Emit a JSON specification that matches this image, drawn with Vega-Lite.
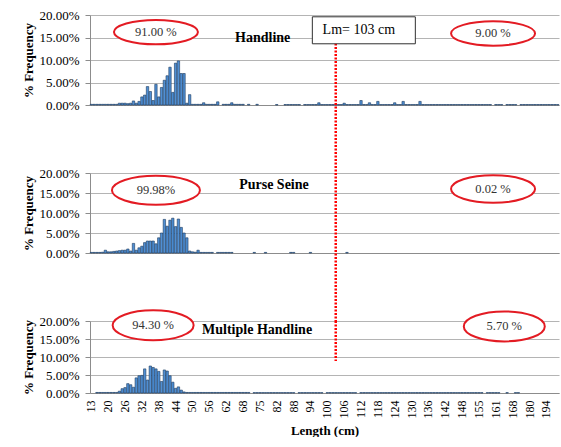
{
"$schema": "https://vega.github.io/schema/vega-lite/v6.json",
"autosize": {"type": "pad"},
"padding": {"left": 22, "top": 9, "right": 0, "bottom": 0},
"background": "white",
"bounds": "flush",
"spacing": 68,
"config": {
  "view": {"stroke": null},
  "font": "Liberation Serif",
  "axis": {"labelFont": "Liberation Serif", "titleFont": "Liberation Serif", "labelColor": "#000000", "titleColor": "#000000", "domainColor": "#8c8c8c", "tickColor": "#8c8c8c", "gridColor": "#b4b4b4", "gridWidth": 1},
  "axisY": {"tickCount": 5, "labelOverlap": false, "labelExpr": "format(datum.value, '.2f') + '%'", "grid": true, "tickSize": 5, "labelPadding": 6, "titlePadding": 3, "labelFontSize": 13, "titleFontSize": 13, "titleFontWeight": "bold"}
},
"datasets": {
"one": [{}],
"bars": [
{"L":13,"H":0.15,"P":0.15,"M":0},{"L":15,"H":0.15,"P":0.15,"M":0},{"L":16,"H":0.15,"P":0.15,"M":0.15},{"L":17,"H":0.15,"P":0.15,"M":0.15},{"L":18,"H":0.15,"P":0.2,"M":0.15},{"L":19,"H":0.15,"P":0.7,"M":0.15},
{"L":20,"H":0.15,"P":0.3,"M":0.15},{"L":21,"H":0.15,"P":0.3,"M":0.15},{"L":22,"H":0.15,"P":0.4,"M":0.15},{"L":23,"H":0.15,"P":0.5,"M":0.15},{"L":24,"H":0.4,"P":0.6,"M":0.5},{"L":25,"H":0.4,"P":0.7,"M":1.2},
{"L":26,"H":0.4,"P":0.7,"M":1.5},{"L":27,"H":0.3,"P":1.0,"M":2.6},{"L":28,"H":0.4,"P":0.5,"M":2.3},{"L":29,"H":0.9,"P":2.4,"M":1.6},{"L":30,"H":0.4,"P":0.7,"M":4.2},{"L":31,"H":0.8,"P":1.3,"M":4.8},
{"L":32,"H":1.8,"P":1.7,"M":4.9},{"L":33,"H":2.2,"P":2.6,"M":6.7},{"L":34,"H":4.1,"P":3.0,"M":3.6},{"L":35,"H":3.0,"P":3.0,"M":7.5},{"L":36,"H":1.0,"P":3.0,"M":7.1},{"L":37,"H":4.6,"P":2.3,"M":6.7},
{"L":38,"H":1.8,"P":3.8,"M":6.0},{"L":39,"H":3.9,"P":5.0,"M":3.2},{"L":40,"H":5.5,"P":8.4,"M":6.4},{"L":41,"H":6.5,"P":6.7,"M":6.1},{"L":42,"H":8.4,"P":8.2,"M":4.8},{"L":43,"H":2.8,"P":8.7,"M":3.0},
{"L":44,"H":9.3,"P":6.6,"M":1.3},{"L":45,"H":9.8,"P":8.5,"M":1.7},{"L":46,"H":7.0,"P":6.4,"M":0.8},{"L":47,"H":7.0,"P":5.0,"M":0.3},{"L":48,"H":0.4,"P":3.8,"M":0.15},{"L":49,"H":2.3,"P":0.5,"M":0.15},
{"L":50,"H":0.15,"P":0.3,"M":0.15},{"L":51,"H":0.15,"P":0.2,"M":0.15},{"L":52,"H":0.15,"P":0.7,"M":0.15},{"L":53,"H":0.15,"P":0.15,"M":0.15},{"L":54,"H":0.5,"P":0.15,"M":0.15},{"L":55,"H":0.15,"P":0.15,"M":0.15},
{"L":56,"H":0.15,"P":0.15,"M":0.15},{"L":57,"H":0.15,"P":0.15,"M":0.15},{"L":58,"H":0.15,"P":0,"M":0.15},{"L":59,"H":0.7,"P":0.15,"M":0.15},{"L":60,"H":0,"P":0.15,"M":0.15},{"L":61,"H":0.15,"P":0.15,"M":0.15},
{"L":62,"H":0.15,"P":0.15,"M":0.15},{"L":63,"H":0.15,"P":0.15,"M":0.15},{"L":64,"H":0.5,"P":0.15,"M":0.15},{"L":65,"H":0.15,"P":0,"M":0.15},{"L":66,"H":0.15,"P":0,"M":0.15},{"L":67,"H":0.15,"P":0,"M":0.15},
{"L":68,"H":0.15,"P":0,"M":0.15},{"L":69,"H":0,"P":0,"M":0.15},{"L":70,"H":0.15,"P":0,"M":0.15},{"L":71,"H":0,"P":0,"M":0},{"L":72,"H":0,"P":0.15,"M":0.1},{"L":74,"H":0.15,"P":0,"M":0.1},
{"L":75,"H":0,"P":0,"M":0.1},{"L":76,"H":0,"P":0,"M":0.1},{"L":77,"H":0,"P":0.15,"M":0.1},{"L":78,"H":0,"P":0,"M":0.1},{"L":79,"H":0,"P":0,"M":0.1},{"L":81,"H":0,"P":0,"M":0.1},
{"L":82,"H":0.1,"P":0,"M":0.1},{"L":83,"H":0,"P":0,"M":0.1},{"L":84,"H":0,"P":0,"M":0.1},{"L":85,"H":0.1,"P":0,"M":0.1},{"L":86,"H":0.1,"P":0,"M":0.1},{"L":87,"H":0.1,"P":0.15,"M":0.1},
{"L":88,"H":0.1,"P":0.15,"M":0.1},{"L":89,"H":0.1,"P":0,"M":0},{"L":90,"H":0.1,"P":0,"M":0.1},{"L":91,"H":0,"P":0,"M":0.1},{"L":92,"H":0.1,"P":0,"M":0.1},{"L":93,"H":0.1,"P":0,"M":0.1},
{"L":94,"H":0.1,"P":0.15,"M":0.1},{"L":95,"H":0.1,"P":0,"M":0.1},{"L":96,"H":0.1,"P":0,"M":0.1},{"L":97,"H":0.5,"P":0,"M":0.1},{"L":98,"H":0.1,"P":0,"M":0.1},{"L":99,"H":0.1,"P":0,"M":0},
{"L":100,"H":0.1,"P":0,"M":0.1},{"L":101,"H":0.1,"P":0,"M":0.1},{"L":102,"H":0.1,"P":0,"M":0.1},{"L":103,"H":0.1,"P":0,"M":0.1},{"L":104,"H":0.1,"P":0,"M":0.1},{"L":105,"H":0.1,"P":0,"M":0.1},
{"L":106,"H":0.4,"P":0,"M":0.1},{"L":107,"H":0.1,"P":0.15,"M":0.1},{"L":108,"H":0.1,"P":0,"M":0.1},{"L":109,"H":0.1,"P":0,"M":0.1},{"L":110,"H":0.1,"P":0,"M":0.1},{"L":111,"H":0.1,"P":0,"M":0},
{"L":112,"H":1.0,"P":0,"M":0.1},{"L":113,"H":0.1,"P":0,"M":0.1},{"L":114,"H":0.1,"P":0,"M":0.1},{"L":115,"H":0.5,"P":0,"M":0.1},{"L":116,"H":0.1,"P":0,"M":0.1},{"L":117,"H":0.1,"P":0,"M":0.1},
{"L":118,"H":0.8,"P":0,"M":0.1},{"L":119,"H":0.1,"P":0,"M":0.1},{"L":120,"H":0.1,"P":0,"M":0.1},{"L":121,"H":0.1,"P":0,"M":0.1},{"L":122,"H":0.1,"P":0,"M":0.1},{"L":123,"H":0.1,"P":0,"M":0.1},
{"L":124,"H":0.5,"P":0,"M":0.1},{"L":125,"H":0.1,"P":0,"M":0.1},{"L":126,"H":0.1,"P":0,"M":0.1},{"L":127,"H":0.8,"P":0,"M":0.1},{"L":128,"H":0.1,"P":0,"M":0.1},{"L":129,"H":0.1,"P":0,"M":0.1},
{"L":130,"H":0.1,"P":0,"M":0.1},{"L":131,"H":0.1,"P":0,"M":0.1},{"L":132,"H":0.1,"P":0,"M":0.1},{"L":133,"H":0.8,"P":0,"M":0.1},{"L":134,"H":0.1,"P":0,"M":0.1},{"L":135,"H":0.1,"P":0,"M":0.1},
{"L":136,"H":0.1,"P":0,"M":0.1},{"L":137,"H":0.1,"P":0,"M":0.1},{"L":138,"H":0.1,"P":0,"M":0.1},{"L":139,"H":0.1,"P":0,"M":0.1},{"L":140,"H":0.1,"P":0,"M":0.1},{"L":141,"H":0.1,"P":0,"M":0.1},
{"L":142,"H":0.1,"P":0,"M":0.1},{"L":143,"H":0.1,"P":0,"M":0.1},{"L":144,"H":0.1,"P":0,"M":0.1},{"L":145,"H":0.1,"P":0,"M":0.1},{"L":146,"H":0.1,"P":0,"M":0.1},{"L":147,"H":0.1,"P":0,"M":0.1},
{"L":148,"H":0.1,"P":0,"M":0.1},{"L":149,"H":0.1,"P":0,"M":0.1},{"L":150,"H":0.1,"P":0,"M":0.1},{"L":151,"H":0.1,"P":0,"M":0.1},{"L":152,"H":0.1,"P":0,"M":0.1},{"L":153,"H":0.1,"P":0,"M":0.1},
{"L":155,"H":0.1,"P":0,"M":0.1},{"L":156,"H":0.1,"P":0,"M":0.1},{"L":157,"H":0.1,"P":0,"M":0},{"L":158,"H":0.1,"P":0,"M":0.1},{"L":159,"H":0.1,"P":0,"M":0.1},{"L":160,"H":0,"P":0,"M":0.1},
{"L":161,"H":0.1,"P":0,"M":0.1},{"L":162,"H":0.1,"P":0,"M":0.1},{"L":163,"H":0.1,"P":0,"M":0},{"L":164,"H":0,"P":0,"M":0},{"L":165,"H":0.1,"P":0,"M":0.1},{"L":166,"H":0.1,"P":0,"M":0},
{"L":168,"H":0.1,"P":0,"M":0},{"L":170,"H":0.1,"P":0,"M":0.1},{"L":172,"H":0,"P":0,"M":0.1},{"L":174,"H":0.1,"P":0,"M":0},{"L":176,"H":0.1,"P":0,"M":0},{"L":178,"H":0.1,"P":0,"M":0},
{"L":180,"H":0.1,"P":0,"M":0},{"L":182,"H":0.1,"P":0,"M":0},{"L":184,"H":0.1,"P":0,"M":0},{"L":186,"H":0.1,"P":0,"M":0},{"L":188,"H":0.1,"P":0,"M":0},{"L":190,"H":0.1,"P":0,"M":0},
{"L":194,"H":0.1,"P":0,"M":0},{"L":195,"H":0.1,"P":0,"M":0},{"L":196,"H":0.1,"P":0,"M":0},{"L":197,"H":0.1,"P":0,"M":0},{"L":198,"H":0.1,"P":0,"M":0}
]
},
"vconcat": [
{
  "width": 469, "height": 90,
  "layer": [
    {
      "data": {"name": "bars"},
      "mark": {"type": "bar", "fill": "#4f8fd4", "stroke": "#1c3a5e", "strokeWidth": 0.6},
      "encoding": {
        "x": {"field": "L", "type": "ordinal", "scale": {"paddingInner": 0.15, "paddingOuter": 0.05}, "axis": {"labels": false, "ticks": false, "title": null, "domain": true, "grid": false}},
        "y": {"field": "H", "type": "quantitative", "scale": {"domain": [0, 20], "nice": false}, "axis": {"title": "% Frequency", "values": [0, 5, 10, 15, 20], "tickCount": 5}},
        "strokeOpacity": {"condition": {"test": "datum.H > 0", "value": 1}, "value": 0}
      }
    },
    {
      "data": {"name": "one"},
      "mark": {"type": "rule", "color": "#ff0000", "strokeWidth": 2.5, "strokeDash": [2, 1.5], "clip": false},
      "encoding": {"x": {"datum": 103, "type": "ordinal"}, "y": {"datum": 16, "type": "quantitative"}, "y2": {"datum": -15.1}}
    },
    {
      "data": {"name": "one"},
      "mark": {"type": "point", "shape": "M-1,-0.262L1,-0.262L1,0.262L-1,0.262Z", "size": 10609, "filled": true, "fill": "white", "stroke": "#303030", "strokeWidth": 1, "opacity": 1},
      "encoding": {"x": {"datum": 113, "type": "ordinal"}, "y": {"datum": 16.6, "type": "quantitative"}}
    },
    {
      "data": {"name": "one"},
      "mark": {"type": "text", "text": "Lm= 103 cm", "fontSize": 14, "font": "Liberation Serif", "color": "#000000", "dx": -5},
      "encoding": {"x": {"datum": 113, "type": "ordinal"}, "y": {"datum": 16.6, "type": "quantitative"}}
    },
    {
      "data": {"name": "one"},
      "mark": {"type": "point", "shape": "M-1,0C-1,-0.16,-0.552,-0.29,0,-0.29C0.552,-0.29,1,-0.16,1,0C1,0.16,0.552,0.29,0,0.29C-0.552,0.29,-1,0.16,-1,0Z", "size": 7056, "filled": true, "fill": "white", "stroke": "#e31b23", "strokeWidth": 2, "opacity": 1},
      "encoding": {"x": {"datum": 37, "type": "ordinal"}, "y": {"datum": 16.2, "type": "quantitative"}}
    },
    {
      "data": {"name": "one"},
      "mark": {"type": "point", "shape": "M-1,0C-1,-0.16,-0.552,-0.29,0,-0.29C0.552,-0.29,1,-0.16,1,0C1,0.16,0.552,0.29,0,0.29C-0.552,0.29,-1,0.16,-1,0Z", "size": 7056, "filled": true, "fill": "white", "stroke": "#e31b23", "strokeWidth": 2, "opacity": 1},
      "encoding": {"x": {"datum": 160, "type": "ordinal"}, "y": {"datum": 15.9, "type": "quantitative"}}
    },
    {
      "data": {"name": "one"},
      "mark": {"type": "text", "text": "91.00 %", "fontSize": 12.5, "font": "Liberation Serif", "color": "#333333"},
      "encoding": {"x": {"datum": 37, "type": "ordinal"}, "y": {"datum": 16.2, "type": "quantitative"}}
    },
    {
      "data": {"name": "one"},
      "mark": {"type": "text", "text": "9.00 %", "fontSize": 12.5, "font": "Liberation Serif", "color": "#333333"},
      "encoding": {"x": {"datum": 160, "type": "ordinal"}, "y": {"datum": 15.9, "type": "quantitative"}}
    },
    {
      "data": {"name": "one"},
      "mark": {"type": "text", "text": "Handline", "fontSize": 14, "fontWeight": "bold", "font": "Liberation Serif", "color": "#000000"},
      "encoding": {"x": {"datum": 76, "type": "ordinal"}, "y": {"datum": 15.0, "type": "quantitative"}}
    }
  ]
},
{
  "width": 469, "height": 80,
  "layer": [
    {
      "data": {"name": "bars"},
      "mark": {"type": "bar", "fill": "#4f8fd4", "stroke": "#1c3a5e", "strokeWidth": 0.6},
      "encoding": {
        "x": {"field": "L", "type": "ordinal", "scale": {"paddingInner": 0.15, "paddingOuter": 0.05}, "axis": {"labels": false, "ticks": false, "title": null, "domain": true, "grid": false}},
        "y": {"field": "P", "type": "quantitative", "scale": {"domain": [0, 20], "nice": false}, "axis": {"title": "% Frequency", "values": [0, 5, 10, 15, 20], "tickCount": 5}},
        "strokeOpacity": {"condition": {"test": "datum.P > 0", "value": 1}, "value": 0}
      }
    },
    {
      "data": {"name": "one"},
      "mark": {"type": "rule", "color": "#ff0000", "strokeWidth": 2.5, "strokeDash": [2, 1.5], "clip": false},
      "encoding": {"x": {"datum": 103, "type": "ordinal"}, "y": {"datum": 20, "type": "quantitative"}, "y2": {"datum": -17}}
    },
    {
      "data": {"name": "one"},
      "mark": {"type": "point", "shape": "M-1,0C-1,-0.182,-0.552,-0.33,0,-0.33C0.552,-0.33,1,-0.182,1,0C1,0.182,0.552,0.33,0,0.33C-0.552,0.33,-1,0.182,-1,0Z", "size": 7744, "filled": true, "fill": "white", "stroke": "#e31b23", "strokeWidth": 2, "opacity": 1},
      "encoding": {"x": {"datum": 37, "type": "ordinal"}, "y": {"datum": 15.7, "type": "quantitative"}}
    },
    {
      "data": {"name": "one"},
      "mark": {"type": "point", "shape": "M-1,0C-1,-0.182,-0.552,-0.33,0,-0.33C0.552,-0.33,1,-0.182,1,0C1,0.182,0.552,0.33,0,0.33C-0.552,0.33,-1,0.182,-1,0Z", "size": 7056, "filled": true, "fill": "white", "stroke": "#e31b23", "strokeWidth": 2, "opacity": 1},
      "encoding": {"x": {"datum": 160, "type": "ordinal"}, "y": {"datum": 16.0, "type": "quantitative"}}
    },
    {
      "data": {"name": "one"},
      "mark": {"type": "text", "text": "99.98%", "fontSize": 12.5, "font": "Liberation Serif", "color": "#333333"},
      "encoding": {"x": {"datum": 37, "type": "ordinal"}, "y": {"datum": 15.7, "type": "quantitative"}}
    },
    {
      "data": {"name": "one"},
      "mark": {"type": "text", "text": "0.02 %", "fontSize": 12.5, "font": "Liberation Serif", "color": "#333333"},
      "encoding": {"x": {"datum": 160, "type": "ordinal"}, "y": {"datum": 16.0, "type": "quantitative"}}
    },
    {
      "data": {"name": "one"},
      "mark": {"type": "text", "text": "Purse Seine", "fontSize": 14, "fontWeight": "bold", "font": "Liberation Serif", "color": "#000000"},
      "encoding": {"x": {"datum": 81, "type": "ordinal"}, "y": {"datum": 16.9, "type": "quantitative"}}
    }
  ]
},
{
  "width": 469, "height": 72,
  "layer": [
    {
      "data": {"name": "bars"},
      "mark": {"type": "bar", "fill": "#4f8fd4", "stroke": "#1c3a5e", "strokeWidth": 0.6},
      "encoding": {
        "x": {"field": "L", "type": "ordinal", "scale": {"paddingInner": 0.15, "paddingOuter": 0.05}, "axis": {"values": [13, 20, 26, 32, 38, 44, 50, 56, 62, 68, 75, 82, 88, 94, 100, 106, 112, 118, 124, 130, 136, 142, 148, 155, 161, 168, 180, 194], "labelAngle": -90, "labelFontSize": 12, "labelPadding": 7, "labelOverlap": false, "ticks": false, "grid": false, "title": "Length (cm)", "titleFontSize": 13, "titleFontWeight": "bold", "titlePadding": 6}},
        "y": {"field": "M", "type": "quantitative", "scale": {"domain": [0, 20], "nice": false}, "axis": {"title": "% Frequency", "values": [0, 5, 10, 15, 20], "tickCount": 5}},
        "strokeOpacity": {"condition": {"test": "datum.M > 0", "value": 1}, "value": 0}
      }
    },
    {
      "data": {"name": "one"},
      "mark": {"type": "rule", "color": "#ff0000", "strokeWidth": 2.5, "strokeDash": [2, 1.5], "clip": false},
      "encoding": {"x": {"datum": 103, "type": "ordinal"}, "y": {"datum": 20, "type": "quantitative"}, "y2": {"datum": 8.9}}
    },
    {
      "data": {"name": "one"},
      "mark": {"type": "point", "shape": "M-1,0C-1,-0.204,-0.552,-0.37,0,-0.37C0.552,-0.37,1,-0.204,1,0C1,0.204,0.552,0.37,0,0.37C-0.552,0.37,-1,0.204,-1,0Z", "size": 6561, "filled": true, "fill": "white", "stroke": "#e31b23", "strokeWidth": 2, "opacity": 1},
      "encoding": {"x": {"datum": 36, "type": "ordinal"}, "y": {"datum": 18.8, "type": "quantitative"}}
    },
    {
      "data": {"name": "one"},
      "mark": {"type": "point", "shape": "M-1,0C-1,-0.204,-0.552,-0.37,0,-0.37C0.552,-0.37,1,-0.204,1,0C1,0.204,0.552,0.37,0,0.37C-0.552,0.37,-1,0.204,-1,0Z", "size": 6561, "filled": true, "fill": "white", "stroke": "#e31b23", "strokeWidth": 2, "opacity": 1},
      "encoding": {"x": {"datum": 164, "type": "ordinal"}, "y": {"datum": 18.5, "type": "quantitative"}}
    },
    {
      "data": {"name": "one"},
      "mark": {"type": "text", "text": "94.30 %", "fontSize": 12.5, "font": "Liberation Serif", "color": "#333333"},
      "encoding": {"x": {"datum": 36, "type": "ordinal"}, "y": {"datum": 18.8, "type": "quantitative"}}
    },
    {
      "data": {"name": "one"},
      "mark": {"type": "text", "text": "5.70 %", "fontSize": 12.5, "font": "Liberation Serif", "color": "#333333"},
      "encoding": {"x": {"datum": 164, "type": "ordinal"}, "y": {"datum": 18.5, "type": "quantitative"}}
    },
    {
      "data": {"name": "one"},
      "mark": {"type": "text", "text": "Multiple Handline", "fontSize": 14, "fontWeight": "bold", "font": "Liberation Serif", "color": "#000000"},
      "encoding": {"x": {"datum": 74, "type": "ordinal"}, "y": {"datum": 17.5, "type": "quantitative"}}
    }
  ]
}
]
}
